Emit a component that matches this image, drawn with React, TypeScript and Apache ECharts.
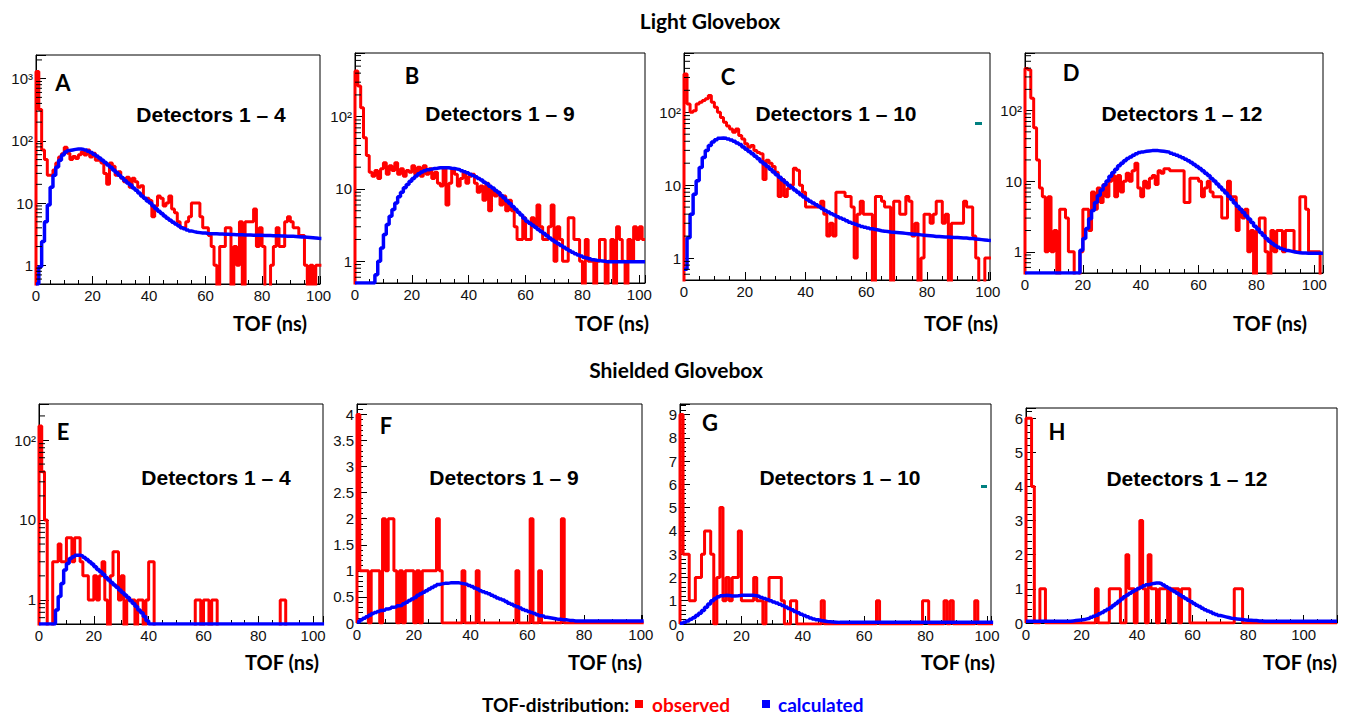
import { useEffect, useRef } from 'react';
import * as echarts from 'echarts';

// ---------- data: counts per 1-ns bin, bin i = [i, i+1) ----------
const RED_A = [
  1300, 320, 71, 50, 28, 28, 34, 44, 55, 62,
  79, 63, 50, 56, 52, 60, 67, 59, 71, 55,
  63, 49, 49, 44, 30, 20, 44, 39, 28, 32,
  25, 22, 26, 18, 25, 22, 18, 19, 12, 12,
  11, 6, 9, 13, 12, 9, 10, 13, 8, 7,
  5, 4, 4, 5, 6, 10, 10, 10, 6, 4,
  4, 3, 2, 1, 0, 2, 2, 4, 4, 0,
  2, 1, 5, 0, 5, 5, 5, 8, 2, 4,
  2, 0, 0, 1, 2, 4, 2, 2, 5, 6,
  5, 4, 4, 3, 3, 1, 0, 1, 0, 1,
  1,
];
const BLUE_A = [
  0, 0.95, 2.4, 5, 9.3, 18, 28, 38, 49, 59,
  66, 70, 71.5, 73, 74, 74, 73, 71, 68, 65,
  61, 57, 53, 49, 45, 41, 37.5, 34, 31, 28,
  25.5, 23, 21, 19.5, 17.5, 16, 14.5, 13, 12, 10.8,
  10, 9, 8.1, 7.4, 6.8, 6.2, 5.7, 5.3, 4.9, 4.6,
  4.3, 4.0, 3.85, 3.7, 3.57, 3.48, 3.4, 3.35, 3.3, 3.3,
  3.25, 3.22, 3.2, 3.2, 3.18, 3.17, 3.15, 3.15, 3.13, 3.12,
  3.1, 3.1, 3.09, 3.08, 3.07, 3.06, 3.05, 3.05, 3.04, 3.03,
  3.02, 3.01, 3.0, 2.99, 2.98, 2.97, 2.96, 2.95, 2.94, 2.93,
  2.92, 2.9, 2.88, 2.86, 2.84, 2.82, 2.8, 2.77, 2.74, 2.71,
  2.7,
];
const RED_B = [
  430, 265, 133, 51, 29, 17, 15, 18, 14, 19,
  23, 16, 21, 18, 23, 16, 19, 15, 18, 17,
  21, 16, 20, 15, 21, 16, 19, 14, 17, 12,
  11, 19, 6, 12, 19, 16, 11, 14, 17, 12,
  15, 16, 12, 9, 11, 7, 12, 5, 10, 8,
  9, 6, 8, 5, 7, 5, 3, 2, 2, 4,
  2, 2, 4, 3, 6, 3, 2, 2, 3, 6,
  1, 3, 2, 1, 1, 4, 4, 2, 2, 1,
  0, 2, 1, 1, 0, 1, 2, 2, 0, 1,
  2, 0, 3, 2, 1, 0, 2, 1, 3, 2,
  3, 2,
];
const BLUE_B = [
  0, 0, 0, 0, 0, 0, 0, 0.65, 1.0, 1.53,
  2.34, 3.22, 4.2, 5.2, 6.4, 7.8, 9.0, 10.4, 11.5, 12.8,
  14, 15.1, 16.2, 17.1, 17.8, 18.4, 18.8, 19.2, 19.4, 19.7,
  19.7, 19.7, 19.7, 19.4, 19.2, 18.8, 18.4, 17.8, 17.3, 16.7,
  16.0, 15.4, 14.7, 14.0, 13.3, 12.4, 11.8, 10.9, 10.3, 9.5,
  8.9, 8.1, 7.5, 6.8, 6.3, 5.7, 5.25, 4.77, 4.35, 3.94,
  3.58, 3.35, 3.15, 2.95, 2.75, 2.58, 2.42, 2.25, 2.1, 1.97,
  1.85, 1.75, 1.65, 1.56, 1.48, 1.4, 1.33, 1.27, 1.22, 1.18,
  1.14, 1.11, 1.08, 1.05, 1.03, 1.02, 1.01, 1.0, 0.98, 0.98,
  0.98, 0.98, 0.98, 0.98, 0.98, 0.98, 0.98, 0.98, 0.98, 0.98,
  0.98, 0.98,
];
const RED_C = [
  335, 130, 100, 105, 130, 137, 145, 153, 170, 137,
  117, 100, 85, 73, 65, 59, 53, 59, 48, 43,
  37, 33, 35, 30, 28, 27, 12, 22, 20, 18,
  15, 7, 12, 7, 9, 10, 17, 16, 10, 8,
  5, 5, 5, 5, 5, 6, 4, 2, 3, 2,
  8, 8, 8, 7, 7, 5, 1, 4, 6, 4,
  4, 4, 0, 7, 7, 6, 5, 5, 0, 6,
  6, 4, 4, 7, 6, 2, 3, 0, 1, 4,
  4, 3, 4, 6, 6, 3, 4, 0, 3, 3,
  3, 3, 6, 5, 5, 2, 1, 0, 0, 1,
  1,
];
const BLUE_C = [
  0.7, 1.9, 4, 7.5, 11.5, 17.5, 24, 30, 35, 39,
  42, 44, 44.3, 44, 43, 41.5, 40, 38, 36, 33.5,
  31, 29, 27, 25, 23, 21, 19.5, 18, 16.5, 15.2,
  13.9, 12.8, 11.8, 10.9, 10, 9.3, 8.6, 8, 7.4, 6.9,
  6.4, 6.0, 5.7, 5.4, 5.1, 4.8, 4.5, 4.3, 4.06, 3.9,
  3.7, 3.55, 3.4, 3.25, 3.1, 3.0, 2.9, 2.8, 2.7, 2.64,
  2.58, 2.52, 2.47, 2.42, 2.37, 2.34, 2.31, 2.28, 2.26, 2.24,
  2.22, 2.2, 2.18, 2.16, 2.14, 2.12, 2.1, 2.08, 2.06, 2.04,
  2.02, 2.0, 1.98, 1.97, 1.96, 1.95, 1.94, 1.93, 1.92, 1.91,
  1.9, 1.89, 1.88, 1.86, 1.85, 1.83, 1.81, 1.79, 1.77, 1.75,
  1.74,
];
const RED_D = [
  395, 380, 150, 57, 20, 8, 6, 1, 6, 1,
  2, 0, 4, 4, 3, 1, 1, 0, 0, 1,
  4, 4, 2, 7, 4, 8, 5, 9, 6, 10,
  12, 6, 12, 7, 10, 13, 10, 14, 18, 8,
  6, 10, 8, 11, 12, 9, 14, 13, 15, 15,
  14, 14, 14, 14, 14, 5, 5, 11, 11, 11,
  10, 6, 8, 10, 7, 6, 6, 6, 3, 3,
  10, 6, 6, 2, 4, 3, 4, 1, 2, 0,
  2, 3, 3, 1, 0, 2, 1, 2, 2, 1,
  2, 2, 2, 1, 1, 6, 6, 4, 1, 1,
  1, 1, 0,
];
const BLUE_D = [
  0, 0, 0, 0, 0, 0, 0, 0, 0, 0,
  0, 0, 0, 0, 0, 0, 0, 0, 0, 1.05,
  1.54, 2.13, 2.94, 3.85, 5.0, 6.25, 7.5, 8.8, 10.1, 11.7,
  13.3, 14.8, 16.5, 18, 19.4, 21, 22.1, 23.3, 24.4, 25.4,
  26, 26.5, 26.8, 27.1, 27.1, 27.1, 26.8, 26.5, 26.2, 25.7,
  24.9, 24, 23.3, 22.3, 21.4, 20.5, 19.4, 18.4, 17.3, 16.2,
  15.1, 14, 13, 12, 10.9, 10.1, 9.1, 8.3, 7.5, 6.8,
  6.1, 5.5, 4.9, 4.4, 4.0, 3.6, 3.2, 2.9, 2.6, 2.3,
  2.1, 1.87, 1.7, 1.54, 1.41, 1.31, 1.23, 1.16, 1.11, 1.08,
  1.04, 1.02, 1.0, 0.98, 0.97, 0.96, 0.96, 0.95, 0.95, 0.95,
  0.95, 0.95, 0.95,
];
const RED_E = [
  150, 40, 10, 0, 0, 3, 3, 5, 3, 3,
  6, 6, 3, 6, 6, 3, 2, 2, 1, 1,
  2, 1, 2, 3, 1, 0, 2, 4, 4, 1,
  2, 0, 1, 1, 1, 0, 1, 1, 0, 1,
  3, 3, 0, 0, 0, 0, 0, 0, 0, 0,
  0, 0, 0, 0, 0, 0, 0, 1, 1, 0,
  1, 1, 0, 1, 1, 0, 0, 0, 0, 0,
  0, 0, 0, 0, 0, 0, 0, 0, 0, 0,
  0, 0, 0, 0, 0, 0, 0, 0, 1, 1,
  0, 0, 0, 0, 0, 0, 0, 0, 0, 0,
  0, 0, 0, 0,
];
const BLUE_E = [
  0, 0, 0, 0, 0, 0, 0.75, 1.1, 1.61, 2.36,
  2.86, 3.3, 3.46, 3.63, 3.63, 3.56, 3.39, 3.21, 3.0, 2.81,
  2.6, 2.41, 2.25, 2.09, 1.91, 1.77, 1.65, 1.54, 1.44, 1.33,
  1.24, 1.15, 1.07, 0.98, 0.9, 0.83, 0.75, 0.69, 0.62, 0.55,
  0, 0, 0, 0, 0, 0, 0, 0, 0, 0,
  0, 0, 0, 0, 0, 0, 0, 0, 0, 0,
  0, 0, 0, 0, 0, 0, 0, 0, 0, 0,
  0, 0, 0, 0, 0, 0, 0, 0, 0, 0,
  0, 0, 0, 0, 0, 0, 0, 0, 0, 0,
  0, 0, 0, 0, 0, 0, 0, 0, 0, 0,
  0, 0, 0, 0,
];
const RED_F = [
  4, 1, 1, 1, 0, 1, 1, 1, 0, 2,
  1, 2, 2, 1, 0, 1, 0, 1, 1, 1,
  0, 1, 0, 1, 1, 1, 1, 1, 2, 1,
  0, 0, 0, 0, 0, 0, 0, 1, 0, 0,
  0, 0, 1, 0, 0, 0, 0, 0, 0, 0,
  0, 0, 0, 0, 0, 0, 1, 0, 0, 0,
  0, 2, 0, 0, 1, 0, 0, 0, 0, 0,
  0, 0, 2, 0, 0, 0, 0, 0, 0, 0,
  0, 0, 0, 0, 0, 0, 0, 0, 0, 0,
  0, 0, 0, 0, 0, 0, 0, 0, 0, 0,
  0,
];
const BLUE_F = [
  0.02, 0.06, 0.09, 0.12, 0.15, 0.18, 0.2, 0.22, 0.24, 0.25,
  0.27, 0.28, 0.3, 0.31, 0.33, 0.34, 0.37, 0.4, 0.43, 0.46,
  0.49, 0.53, 0.56, 0.59, 0.62, 0.65, 0.68, 0.71, 0.74, 0.75,
  0.76, 0.76, 0.77, 0.77, 0.77, 0.77, 0.76, 0.75, 0.74, 0.72,
  0.7, 0.67, 0.65, 0.62, 0.6, 0.58, 0.56, 0.53, 0.51, 0.48,
  0.46, 0.44, 0.41, 0.38, 0.36, 0.33, 0.31, 0.29, 0.26, 0.24,
  0.22, 0.2, 0.18, 0.16, 0.14, 0.13, 0.11, 0.1, 0.09, 0.08,
  0.07, 0.07, 0.06, 0.06, 0.05, 0.05, 0.04, 0.04, 0.04, 0.04,
  0.04, 0.04, 0.04, 0.04, 0.04, 0.04, 0.04, 0.04, 0.04, 0.04,
  0.04, 0.04, 0.04, 0.04, 0.04, 0.04, 0.04, 0.04, 0.04, 0.04,
  0.04,
];
const RED_G = [
  9, 3, 3, 1, 1, 2, 2, 3, 4, 4,
  3, 0, 2, 5, 1, 2, 1, 2, 2, 4,
  1, 1, 1, 1, 2, 1, 1, 0, 1, 2,
  2, 2, 2, 1, 0, 0, 1, 1, 0, 0,
  0, 0, 0, 0, 0, 0, 1, 0, 0, 0,
  0, 0, 0, 0, 0, 0, 0, 0, 0, 0,
  0, 0, 0, 0, 1, 0, 0, 0, 0, 0,
  0, 0, 0, 0, 0, 0, 0, 0, 0, 1,
  1, 0, 0, 0, 0, 0, 1, 0, 1, 0,
  0, 0, 0, 0, 0, 0, 1, 0, 0, 0,
  0, 0,
];
const BLUE_G = [
  0.03, 0.08, 0.13, 0.2, 0.27, 0.36, 0.46, 0.58, 0.72, 0.86,
  1.0, 1.1, 1.17, 1.21, 1.23, 1.22, 1.2, 1.2, 1.21, 1.23,
  1.24, 1.24, 1.24, 1.23, 1.21, 1.18, 1.14, 1.1, 1.05, 1.0,
  0.95, 0.9, 0.85, 0.79, 0.73, 0.67, 0.61, 0.54, 0.48, 0.42,
  0.36, 0.31, 0.26, 0.22, 0.18, 0.15, 0.13, 0.11, 0.1, 0.09,
  0.08, 0.07, 0.07, 0.07, 0.07, 0.07, 0.07, 0.07, 0.07, 0.07,
  0.07, 0.07, 0.07, 0.07, 0.07, 0.07, 0.07, 0.07, 0.07, 0.07,
  0.07, 0.07, 0.07, 0.07, 0.07, 0.07, 0.07, 0.07, 0.07, 0.07,
  0.07, 0.07, 0.07, 0.07, 0.07, 0.07, 0.07, 0.07, 0.07, 0.07,
  0.07, 0.07, 0.07, 0.07, 0.07, 0.07, 0.07, 0.07, 0.07, 0.07,
  0.07, 0.07,
];
const RED_H = [
  6, 6, 4, 0, 0, 1, 1, 0, 0, 0,
  0, 0, 0, 0, 0, 0, 0, 0, 0, 0,
  0, 0, 0, 0, 0, 1, 0, 0, 0, 0,
  1, 1, 1, 1, 0, 0, 2, 1, 1, 0,
  1, 3, 1, 0, 2, 1, 1, 0, 1, 1,
  1, 0, 1, 1, 1, 0, 1, 1, 1, 0,
  0, 0, 0, 0, 0, 0, 0, 0, 0, 0,
  0, 0, 0, 0, 0, 1, 1, 1, 0, 0,
  0, 0, 0, 0, 0, 0, 0, 0, 0, 0,
  0, 0, 0, 0, 0, 0, 0, 0, 0, 0,
  0, 0, 0, 0, 0, 0, 0, 0, 0, 0,
  0, 0,
];
const BLUE_H = [
  0.05, 0.05, 0.05, 0.05, 0.05, 0.05, 0.05, 0.05, 0.05, 0.05,
  0.05, 0.05, 0.05, 0.05, 0.05, 0.05, 0.06, 0.07, 0.08, 0.09,
  0.1, 0.12, 0.14, 0.17, 0.2, 0.23, 0.27, 0.31, 0.36, 0.4,
  0.45, 0.51, 0.57, 0.64, 0.7, 0.77, 0.82, 0.87, 0.92, 0.97,
  1.01, 1.05, 1.09, 1.12, 1.14, 1.16, 1.17, 1.17, 1.15, 1.11,
  1.06, 1.02, 0.97, 0.92, 0.87, 0.82, 0.77, 0.72, 0.67, 0.62,
  0.57, 0.52, 0.48, 0.43, 0.39, 0.35, 0.32, 0.28, 0.25, 0.22,
  0.2, 0.18, 0.16, 0.14, 0.13, 0.12, 0.11, 0.1, 0.09, 0.08,
  0.08, 0.07, 0.07, 0.06, 0.06, 0.05, 0.05, 0.05, 0.05, 0.05,
  0.05, 0.05, 0.05, 0.05, 0.05, 0.05, 0.05, 0.05, 0.05, 0.05,
  0.05, 0.05, 0.05, 0.05, 0.05, 0.05, 0.05, 0.05, 0.05, 0.05,
  0.05, 0.05,
];

const X_TICK_STEP = 20;
const SECTION_TITLES = ['Light Glovebox', 'Shielded Glovebox'];
const LEGEND_LABEL = 'TOF-distribution:';
const LEGEND_ITEMS = ['observed', 'calculated'];

// ---------- panel layout ----------
const PANELS = [
  { id: 'A', red: RED_A, blue: BLUE_A, log: true, xMax: 100.5, yMin: 0.5, yMax: 2400, yStep: 0,
    box: [36, 55, 284, 229], letter: [63, 82], det: 'Detectors 1 – 4', detPos: [211, 114], tofPos: [270, 323] },
  { id: 'B', red: RED_B, blue: BLUE_B, log: true, xMax: 102, yMin: 0.5, yMax: 760, yStep: 0,
    box: [355, 53, 290, 230], letter: [412, 75], det: 'Detectors 1 – 9', detPos: [500, 113], tofPos: [612, 323] },
  { id: 'C', red: RED_C, blue: BLUE_C, log: true, xMax: 100.7, yMin: 0.5, yMax: 650, yStep: 0,
    box: [684, 53, 306, 227], letter: [728, 76], det: 'Detectors 1 – 10', detPos: [836, 113], tofPos: [961, 323] },
  { id: 'D', red: RED_D, blue: BLUE_D, log: true, xMax: 103, yMin: 0.5, yMax: 655, yStep: 0,
    box: [1025, 53, 298, 220], letter: [1071, 72], det: 'Detectors 1 – 12', detPos: [1182, 113], tofPos: [1270, 323] },
  { id: 'E', red: RED_E, blue: BLUE_E, log: true, xMax: 103.6, yMin: 0.5, yMax: 282, yStep: 0,
    box: [39, 404, 284, 220], letter: [63, 431], det: 'Detectors 1 – 4', detPos: [216, 477], tofPos: [282, 662] },
  { id: 'F', red: RED_F, blue: BLUE_F, log: false, xMax: 100.4, yMin: 0, yMax: 4.2, yStep: 0.5,
    box: [357, 404, 285, 219], letter: [386, 425], det: 'Detectors 1 – 9', detPos: [504, 477], tofPos: [605, 662] },
  { id: 'G', red: RED_G, blue: BLUE_G, log: false, xMax: 101.3, yMin: 0, yMax: 9.45, yStep: 1,
    box: [680, 404, 311, 220], letter: [710, 422], det: 'Detectors 1 – 10', detPos: [840, 477], tofPos: [958, 662] },
  { id: 'H', red: RED_H, blue: BLUE_H, log: false, xMax: 112, yMin: 0, yMax: 6.3, yStep: 1,
    box: [1026, 408, 311, 215], letter: [1057, 431], det: 'Detectors 1 – 12', detPos: [1187, 478], tofPos: [1300, 662] },
];

const SUP: Record<number, string> = { 2: '²', 3: '³', 4: '⁴' };
const LABEL_FONT = 'Liberation Sans, Arial, sans-serif';
const CAL_FONT = 'Lato, "Open Sans", sans-serif';

function histPoints(vals: number[], low: number, startLow: boolean) {
  const f = (v: number) => (v <= 0 ? low : v);
  const pts: number[][] = [];
  if (startLow) pts.push([0, low]);
  vals.forEach((v, i) => pts.push([i, f(v)]));
  pts.push([vals.length, f(vals[vals.length - 1])]);
  return pts;
}

function logMinorTicks(yMin: number, yMax: number) {
  const out: number[] = [];
  for (let e = -1; e <= 4; e++) {
    for (let m = 2; m <= 9; m++) {
      const v = m * Math.pow(10, e);
      if (v > yMin && v < yMax) out.push(v);
    }
  }
  return out;
}

function textEl(text: string, x: number, y: number, font: string, fill: string, align = 'center') {
  return {
    type: 'text', silent: true, z: 10,
    style: { text, x, y, fill, font, textAlign: align, textVerticalAlign: 'middle', align, verticalAlign: 'middle' },
  };
}

function buildOption() {
  const grid: any[] = [];
  const xAxis: any[] = [];
  const yAxis: any[] = [];
  const series: any[] = [];
  const graphic: any[] = [];

  PANELS.forEach((p, i) => {
    grid.push({
      left: p.box[0], top: p.box[1], width: p.box[2], height: p.box[3],
      show: true, borderColor: '#000', borderWidth: 1, backgroundColor: 'transparent',
    });
    xAxis.push({
      gridIndex: i, type: 'value', min: 0, max: p.xMax, interval: X_TICK_STEP,
      axisLine: { show: true, onZero: false, lineStyle: { color: '#000', width: 1 } },
      axisTick: { show: true, inside: true, length: 8, lineStyle: { color: '#000', width: 1 } },
      minorTick: { show: true, splitNumber: 4, length: 4, lineStyle: { color: '#000', width: 1 } },
      splitLine: { show: false }, minorSplitLine: { show: false },
      axisLabel: {
        margin: 4, fontFamily: LABEL_FONT, fontSize: 15, color: '#111',
        formatter: (v: number) => (Math.abs(v / X_TICK_STEP - Math.round(v / X_TICK_STEP)) < 1e-6 ? String(Math.round(v)) : ''),
      },
    });
    if (p.log) {
      yAxis.push({
        gridIndex: i, type: 'log', logBase: 10, min: p.yMin, max: p.yMax,
        axisLine: { show: true, onZero: false, lineStyle: { color: '#000', width: 1 } },
        axisTick: { show: true, inside: true, length: 10, lineStyle: { color: '#000', width: 1 } },
        minorTick: { show: false },
        splitLine: { show: false }, minorSplitLine: { show: false },
        axisLabel: {
          margin: 3, fontFamily: LABEL_FONT, fontSize: 15, color: '#111',
          formatter: (v: number) => {
            const l = Math.log10(v);
            const e = Math.round(l);
            if (Math.abs(l - e) > 1e-6 || e < 0) return '';
            if (e === 0) return '1';
            if (e === 1) return '10';
            return '10' + (SUP[e] || '');
          },
        },
      });
    } else {
      yAxis.push({
        gridIndex: i, type: 'value', min: 0, max: p.yMax, interval: p.yStep,
        axisLine: { show: true, onZero: false, lineStyle: { color: '#000', width: 1 } },
        axisTick: { show: true, inside: true, length: 10, lineStyle: { color: '#000', width: 1 } },
        minorTick: { show: true, splitNumber: 5, length: 6, lineStyle: { color: '#000', width: 1 } },
        splitLine: { show: false }, minorSplitLine: { show: false },
        axisLabel: {
          margin: 3, fontFamily: LABEL_FONT, fontSize: 15, color: '#111',
          formatter: (v: number) => {
            const k = v / p.yStep;
            return Math.abs(k - Math.round(k)) < 1e-6 ? String(Math.round(k * p.yStep * 10) / 10) : '';
          },
        },
      });
    }

    const redLow = p.log ? p.yMin / 20 : 0;
    const blueLow = p.log ? p.yMin : 0;
    series.push({
      type: 'line', xAxisIndex: i, yAxisIndex: i, step: 'end', symbol: 'none', showSymbol: false,
      data: histPoints(p.red, redLow, true), lineStyle: { color: '#ff0000', width: 3 },
      z: 2, silent: true, animation: false,
    });
    series.push({
      type: 'line', xAxisIndex: i, yAxisIndex: i, step: 'end', symbol: 'none', showSymbol: false,
      data: histPoints(p.blue, blueLow, false), lineStyle: { color: '#0000ff', width: 3.5 },
      z: 3, silent: true, animation: false,
    });
    if (p.log) {
      series.push({
        type: 'custom', xAxisIndex: i, yAxisIndex: i, silent: true, clip: false, z: 5, animation: false,
        data: logMinorTicks(p.yMin, p.yMax).map((v) => [0, v]),
        renderItem: (_params: any, api: any) => {
          const pt = api.coord([api.value(0), api.value(1)]);
          return {
            type: 'line',
            shape: { x1: pt[0], y1: pt[1], x2: pt[0] + 6, y2: pt[1] },
            style: { stroke: '#000', lineWidth: 1 },
          };
        },
      });
    }

    graphic.push(textEl(p.id, p.letter[0], p.letter[1], `bold 22px ${CAL_FONT}`, '#000'));
    graphic.push(textEl(p.det, p.detPos[0], p.detPos[1], `bold 21px ${LABEL_FONT}`, '#000'));
    graphic.push(textEl('TOF (ns)', p.tofPos[0], p.tofPos[1], `bold 20px ${CAL_FONT}`, '#000'));
  });

  graphic.push(textEl(SECTION_TITLES[0], 710, 20, `bold 21px ${CAL_FONT}`, '#000'));
  graphic.push(textEl(SECTION_TITLES[1], 676, 369, `bold 21px ${CAL_FONT}`, '#000'));
  // small teal artefacts
  graphic.push({ type: 'rect', silent: true, shape: { x: 975, y: 122, width: 7, height: 3 }, style: { fill: '#008080' } });
  graphic.push({ type: 'rect', silent: true, shape: { x: 981, y: 485, width: 6, height: 3 }, style: { fill: '#008080' } });

  // legend
  graphic.push(textEl(LEGEND_LABEL, 482, 704, `bold 19px ${CAL_FONT}`, '#000', 'left'));
  graphic.push({ type: 'rect', silent: true, shape: { x: 635, y: 700, width: 8, height: 8 }, style: { fill: '#ff0000' } });
  graphic.push(textEl(LEGEND_ITEMS[0], 652, 704, `bold 19px ${CAL_FONT}`, '#ff0000', 'left'));
  graphic.push({ type: 'rect', silent: true, shape: { x: 762, y: 700, width: 8, height: 8 }, style: { fill: '#0000ff' } });
  graphic.push(textEl(LEGEND_ITEMS[1], 778, 704, `bold 19px ${CAL_FONT}`, '#0000ff', 'left'));

  return {
    animation: false,
    backgroundColor: '#ffffff',
    grid, xAxis, yAxis, series, graphic,
  };
}

export default function App() {
  const ref = useRef<HTMLDivElement>(null);
  useEffect(() => {
    if (!ref.current) return;
    const chart = echarts.init(ref.current, undefined, { renderer: 'svg' });
    chart.setOption(buildOption() as any);
    return () => chart.dispose();
  }, []);
  return (
    <div
      ref={ref}
      style={{ position: 'fixed', left: 0, top: 0, width: 1353, height: 717, background: '#fff' }}
    />
  );
}
